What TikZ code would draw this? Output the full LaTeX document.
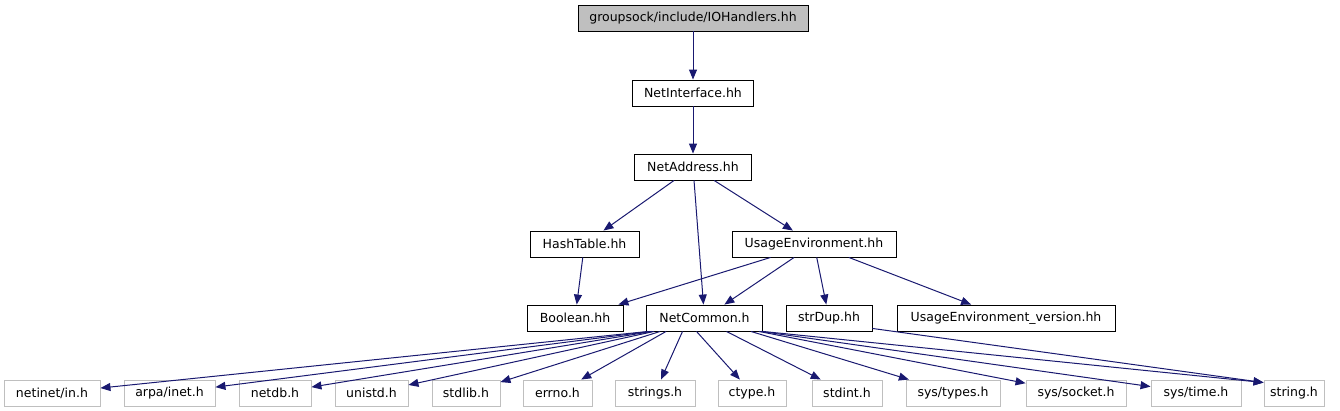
\documentclass[tikz,border=0pt]{standalone}
\usepackage{fontspec}
\setmainfont{DejaVu Sans}
\usetikzlibrary{arrows.meta,positioning}
\definecolor{EdgeBlue}{RGB}{25,25,112}
\definecolor{RootGray}{RGB}{191,191,191}
\definecolor{SysGray}{RGB}{191,191,191}

\begin{document}
\begin{tikzpicture}[x=1pt, y=-1pt,
    file/.style={draw=black, line width=0.9pt, minimum height=26pt, inner xsep=2pt, inner ysep=0pt, font=\fontsize{12.5}{14}\selectfont},
    root/.style={file, fill=RootGray},
    sysfile/.style={file, draw=SysGray},
    dep/.style={-{Triangle[length=10pt, width=8pt]}, line width=1pt, EdgeBlue}
  ]
    \useasboundingbox (0,0) rectangle (1340,411);

    % Upper chain
    \node[root, minimum width=230pt] (io) at (693,18) {groupsock/include/IOHandlers.hh};
    \node[file, minimum width=121pt] (ni) at (693,93) {NetInterface.hh};
    \node[file, minimum width=117pt] (na) at (693,167) {NetAddress.hh};
    \draw[dep] (io) -- (ni);
    \draw[dep] (ni) -- (na);

    % Middle rows
    \node[file, minimum width=109pt] (ht) at (584.5,244) {HashTable.hh};
    \node[file, minimum width=164pt] (ue) at (814,244) {UsageEnvironment.hh};
    \node[file, minimum width=96pt] (bool) at (575,318) {Boolean.hh};
    \node[file, minimum width=116pt] (nc) at (704.5,318) {NetCommon.h};
    \node[file, minimum width=86pt] (sd) at (829,318) {strDup.hh};
    \node[file, minimum width=218pt] (uev) at (1006,318) {UsageEnvironment\_version.hh};
    \draw[dep] (na) -- (ht);
    \draw[dep] (na) -- (nc);
    \draw[dep] (na) -- (ue);
    \draw[dep] (ht) -- (bool);
    \draw[dep] (ue) -- (bool);
    \draw[dep] (ue) -- (nc);
    \draw[dep] (ue) -- (sd);
    \draw[dep] (ue) -- (uev);

    % System headers
    \node[sysfile, minimum width=96pt] (netinet) at (52,393) {netinet/in.h};
    \node[sysfile, minimum width=91pt] (arpa) at (169.5,393) {arpa/inet.h};
    \node[sysfile, minimum width=72pt] (netdb) at (275,393) {netdb.h};
    \node[sysfile, minimum width=73pt] (unistd) at (371.5,393) {unistd.h};
    \node[sysfile, minimum width=68pt] (stdlib) at (466,393) {stdlib.h};
    \node[sysfile, minimum width=69pt] (errno) at (557.5,393) {errno.h};
    \node[sysfile, minimum width=80pt] (strings) at (655,393) {strings.h};
    \node[sysfile, minimum width=68pt] (ctype) at (752,393) {ctype.h};
    \node[sysfile, minimum width=70pt] (stdint) at (847,393) {stdint.h};
    \node[sysfile, minimum width=94pt] (systypes) at (953,393) {sys/types.h};
    \node[sysfile, minimum width=100pt] (syssocket) at (1076,393) {sys/socket.h};
    \node[sysfile, minimum width=90pt] (systime) at (1196,393) {sys/time.h};
    \node[sysfile, minimum width=60pt] (string) at (1294,393) {string.h};

    \draw[dep] ([xshift=2pt]nc.south west) -- (netinet);
    \draw[dep] ([xshift=4pt]nc.south west) -- (arpa);
    \draw[dep] ([xshift=6pt]nc.south west) -- (netdb);
    \draw[dep] ([xshift=8pt]nc.south west) -- (unistd);
    \draw[dep] ([xshift=14pt]nc.south west) -- (stdlib);
    \draw[dep] ([xshift=20pt]nc.south west) -- (errno);
    \draw[dep] ([xshift=-22pt]nc.south) -- (strings);
    \draw[dep] ([xshift=-8pt]nc.south) -- (ctype);
    \draw[dep] ([xshift=22pt]nc.south) -- (stdint);
    \draw[dep] ([xshift=-12pt]nc.south east) -- (systypes);
    \draw[dep] ([xshift=-4pt]nc.south east) -- (syssocket);
    \draw[dep] ([xshift=-2pt]nc.south east) -- (systime);
    \draw[dep] (nc.south east) -- ([yshift=-3pt]string.north west);
    \draw[dep] ([yshift=3pt]sd.south east) -- ([yshift=-3pt]string.north west);
  \end{tikzpicture}
\end{document}
